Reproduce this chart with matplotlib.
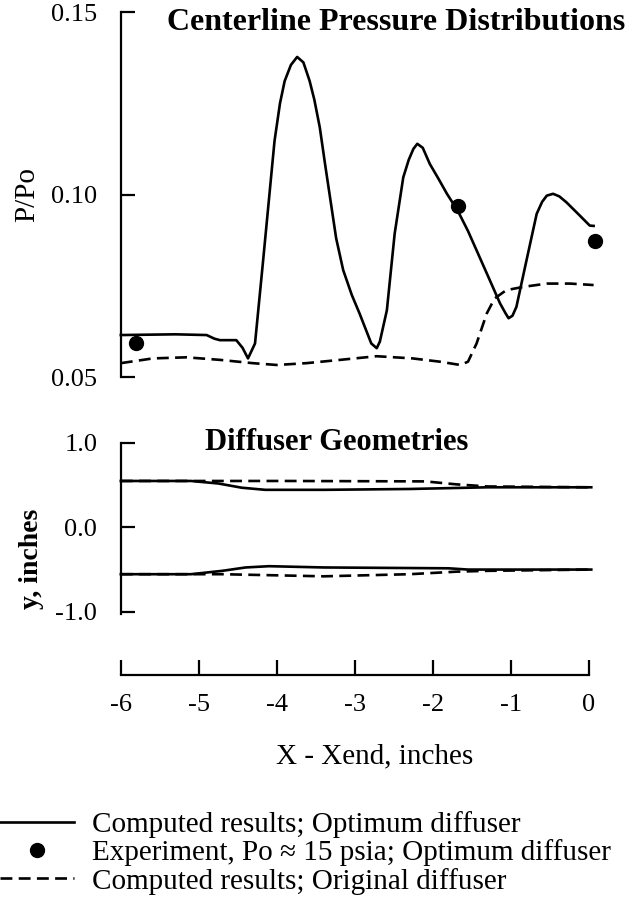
import matplotlib
matplotlib.use('Agg')
import matplotlib.pyplot as plt

plt.rcParams['font.family'] = ['Liberation Serif', 'DejaVu Serif']

# centerline pressure, optimum diffuser (computed)
x_opt = [-6.0, -5.3, -4.9, -4.80, -4.73, -4.52, -4.44, -4.37, -4.28, -4.18, -4.10,
         -4.03, -3.96, -3.90, -3.82, -3.74, -3.66, -3.58, -3.52, -3.45, -3.38, -3.24,
         -3.15, -3.04, -2.94, -2.79, -2.72, -2.68, -2.59, -2.49, -2.38, -2.31, -2.25,
         -2.20, -2.13, -2.04, -1.92, -1.82, -1.68, -1.55, -1.44, -1.27, -1.14, -1.07,
         -1.03, -0.98, -0.93, -0.80, -0.67, -0.60, -0.54, -0.46, -0.38, -0.29, -0.12,
         0.01, 0.06]
p_opt = [0.0615, 0.0617, 0.0615, 0.0605, 0.0601, 0.0601, 0.0580, 0.0551, 0.0592, 0.0811,
         0.0990, 0.1147, 0.1250, 0.1311, 0.1355, 0.1377, 0.1362, 0.1311, 0.1260, 0.1184,
         0.1080, 0.0880, 0.0793, 0.0725, 0.0674, 0.0592, 0.0579, 0.0597, 0.0683, 0.0893,
         0.1047, 0.1095, 0.1125, 0.1139, 0.1128, 0.1084, 0.1040, 0.1002, 0.0955, 0.0900,
         0.0847, 0.0765, 0.0702, 0.0675, 0.0661, 0.0668, 0.0692, 0.0820, 0.0947, 0.0980,
         0.0997, 0.1002, 0.0995, 0.0979, 0.0943, 0.0915, 0.0914]

# centerline pressure, original diffuser (computed)
x_orig = [-6.0, -5.59, -5.16, -4.73, -4.31, -4.00, -3.62, -3.19, -2.72, -2.26, -1.91,
          -1.65, -1.55, -1.44, -1.31, -1.21, -1.06, -0.84, -0.54, -0.24, 0.06]
p_orig = [0.0538, 0.0551, 0.0554, 0.0547, 0.0538, 0.0533, 0.0538, 0.0547, 0.0557, 0.0551,
          0.0542, 0.0533, 0.0542, 0.0592, 0.0674, 0.0715, 0.0738, 0.0747, 0.0756, 0.0756,
          0.0752]

# experiment
x_exp = [-5.80, -1.68, 0.08]
p_exp = [0.0592, 0.0968, 0.0874]

# diffuser walls
x_opt_up = [-6.0, -5.1, -4.75, -4.45, -4.15, -3.4, -2.3, -1.8, -1.3, 0.03]
y_opt_up = [0.55, 0.55, 0.52, 0.47, 0.445, 0.445, 0.455, 0.465, 0.475, 0.475]
x_orig_up = [-6.0, -4.9, -3.9, -2.1, -1.7, -1.3, 0.03]
y_orig_up = [0.55, 0.55, 0.55, 0.545, 0.51, 0.485, 0.475]
x_opt_lo = [-6.0, -5.1, -4.7, -4.4, -4.1, -3.4, -1.8, -1.55, 0.03]
y_opt_lo = [-0.555, -0.555, -0.515, -0.475, -0.46, -0.475, -0.485, -0.50, -0.50]
x_orig_lo = [-6.0, -4.7, -3.4, -2.3, -1.7, -1.3, 0.03]
y_orig_lo = [-0.555, -0.555, -0.58, -0.555, -0.525, -0.515, -0.50]

x_ticks = [-6, -5, -4, -3, -2, -1, 0]
p_ticks = [0.05, 0.10, 0.15]
y_ticks = [1.0, 0.0, -1.0]

lw = 1.9
slw = 1.6
dash = (0, (4.5, 2.4))

fig = plt.figure(figsize=(6.36, 9.05), dpi=100)
ax1 = fig.add_axes([0.190, 0.5834, 0.736, 0.4033])
ax2 = fig.add_axes([0.190, 0.2541, 0.736, 0.2564])

# top panel
l_opt, = ax1.plot(x_opt, p_opt, color='black', lw=lw, clip_on=False)
l_orig, = ax1.plot(x_orig, p_orig, color='black', lw=lw, ls=dash, clip_on=False)
l_exp, = ax1.plot(x_exp, p_exp, 'o', color='black', ms=10, clip_on=False)
ax1.set_xlim(-6, 0)
ax1.set_ylim(0.05, 0.15)
ax1.set_yticks(p_ticks)
ax1.set_yticklabels(['%.2f' % v for v in p_ticks])
ax1.set_xticks([])
for s in ['top', 'right', 'bottom']:
    ax1.spines[s].set_visible(False)
ax1.spines['left'].set_linewidth(slw)
ax1.tick_params(axis='y', direction='in', length=10, width=slw, pad=17, labelsize=19)
ax1.set_ylabel('P/Po', fontsize=21, labelpad=8)
ax1.text(0.588, 0.97, 'Centerline Pressure Distributions', transform=ax1.transAxes,
         ha='center', va='center', fontsize=23, fontweight='bold')

# bottom panel
ax2.plot(x_opt_up, y_opt_up, color='black', lw=lw, clip_on=False)
ax2.plot(x_orig_up, y_orig_up, color='black', lw=lw, ls=dash, clip_on=False)
ax2.plot(x_opt_lo, y_opt_lo, color='black', lw=lw, clip_on=False)
ax2.plot(x_orig_lo, y_orig_lo, color='black', lw=lw, ls=dash, clip_on=False)
ax2.set_xlim(-6, 0)
ax2.set_ylim(-1.75, 1.0)
ax2.set_xticks(x_ticks)
ax2.set_xticklabels([str(v) for v in x_ticks])
ax2.set_yticks(y_ticks)
ax2.set_yticklabels(['%.1f' % v for v in y_ticks])
for s in ['top', 'right']:
    ax2.spines[s].set_visible(False)
ax2.spines['left'].set_bounds(-1.03, 1.0)
ax2.spines['left'].set_linewidth(slw)
ax2.spines['bottom'].set_linewidth(slw)
ax2.tick_params(axis='y', direction='in', length=10, width=slw, pad=17, labelsize=19)
ax2.tick_params(axis='x', direction='in', length=11, width=slw, pad=14, labelsize=19)
ax2.set_ylabel('y, inches', fontsize=20, fontweight='bold', labelpad=8)
ax2.set_xlabel('X - Xend, inches', fontsize=21)
ax2.xaxis.set_label_coords(0.543, -0.295)
ax2.text(0.462, 1.0, 'Diffuser Geometries', transform=ax2.transAxes,
         ha='center', va='center', fontsize=22, fontweight='bold')

fig.legend([l_opt, l_exp, l_orig],
           ['Computed results; Optimum diffuser',
            'Experiment, Po \u2248 15 psia; Optimum diffuser',
            'Computed results; Original diffuser'],
           loc='upper left', bbox_to_anchor=(0.0, 0.104), frameon=False,
           fontsize=21, handlelength=2.55, handletextpad=0.62, labelspacing=0.05,
           borderpad=0, borderaxespad=0, numpoints=1)

fig.savefig('out.png', dpi=100)
